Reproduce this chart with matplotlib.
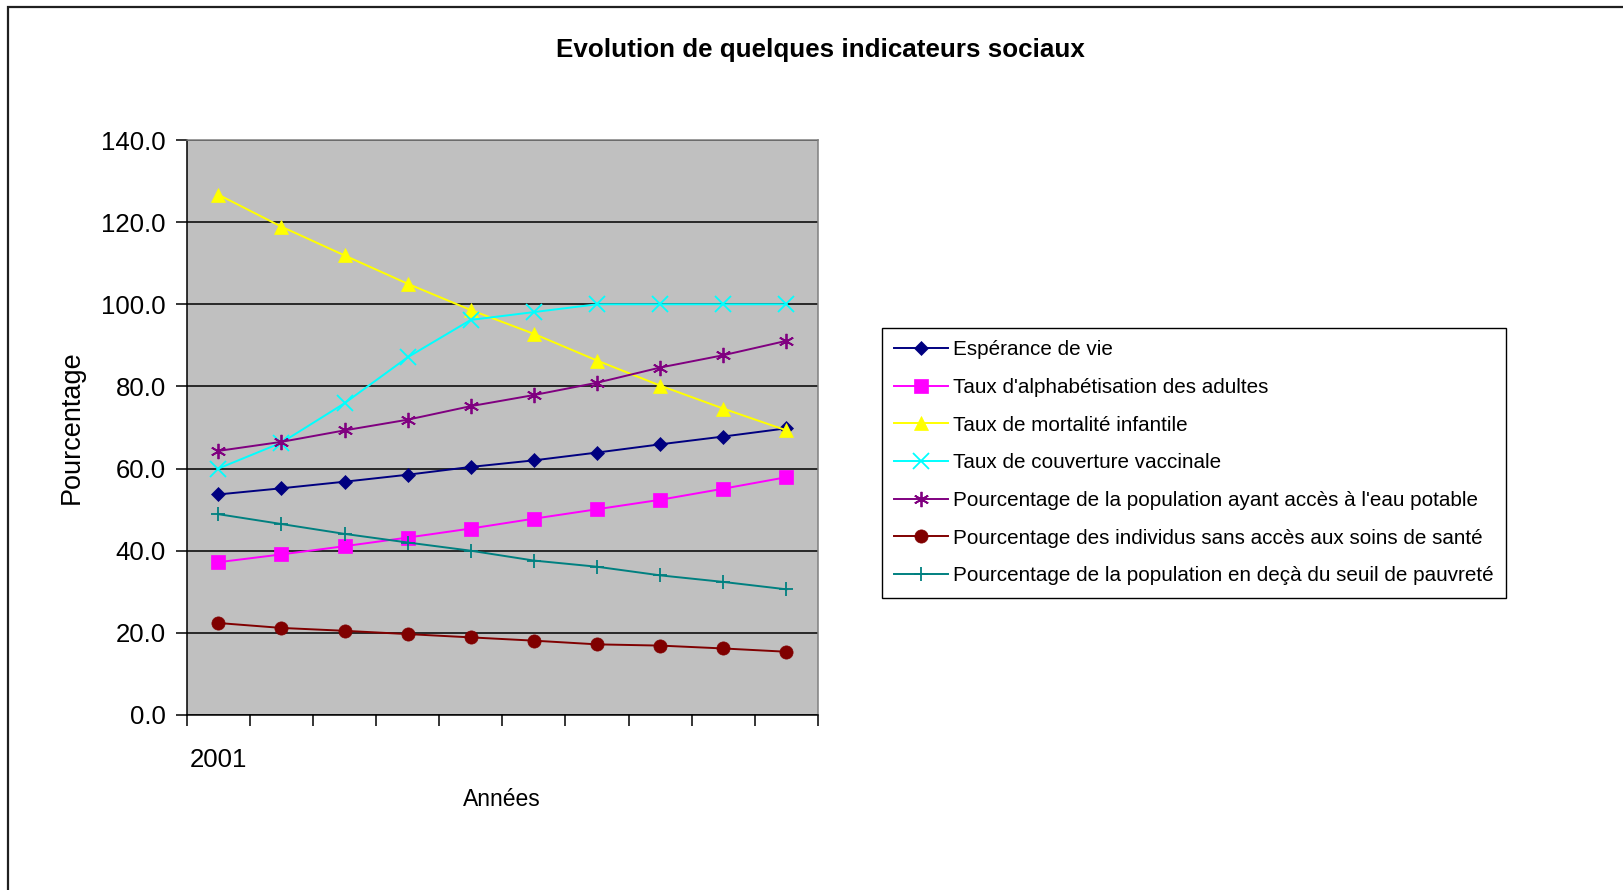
import numpy as np
import matplotlib
matplotlib.use('Agg')
import matplotlib.pyplot as plt
from matplotlib.patches import Rectangle
from matplotlib.ticker import FixedLocator

# Données (10 années, seule 2001 est étiquetée)
annees = ['2001', '', '', '', '', '', '', '', '', '']

esperance_vie = [53.7, 55.2, 56.8, 58.5, 60.4, 62.0, 63.9, 65.9, 67.8, 69.8]
alphabetisation = [37.2, 39.1, 41.1, 43.2, 45.4, 47.8, 50.1, 52.4, 55.1, 57.9]
mortalite_infantile = [126.7, 118.9, 111.9, 105.0, 98.6, 92.8, 86.3, 80.2, 74.6, 69.3]
couverture_vaccinale = [60.0, 66.3, 75.9, 87.1, 96.2, 98.1, 100.0, 100.0, 100.0, 100.0]
eau_potable = [64.3, 66.5, 69.3, 71.9, 75.2, 77.9, 80.9, 84.6, 87.6, 91.1]
sans_soins = [22.4, 21.2, 20.5, 19.7, 18.9, 18.1, 17.2, 16.9, 16.2, 15.4]
pauvrete = [48.9, 46.5, 44.1, 42.0, 40.0, 37.6, 36.1, 34.0, 32.4, 30.6]

series = [
    ("Espérance de vie", esperance_vie, '#000080', 'D', 7.5),
    ("Taux d'alphabétisation des adultes", alphabetisation, '#FF00FF', 's', 10),
    ("Taux de mortalité infantile", mortalite_infantile, '#FFFF00', '^', 10.5),
    ("Taux de couverture vaccinale", couverture_vaccinale, '#00FFFF', 'x', 11),
    ("Pourcentage de la population ayant accès à l'eau potable", eau_potable, '#800080', (6, 2, 0), 11),
    ("Pourcentage des individus sans accès aux soins de santé", sans_soins, '#800000', 'o', 9.5),
    ("Pourcentage de la population en deçà du seuil de pauvreté", pauvrete, '#008080', '+', 10.5),
]

plt.rcParams['font.family'] = ['Liberation Sans', 'DejaVu Sans']

W, H = 1623, 890
fig = plt.figure(figsize=(W / 100, H / 100), dpi=100)

# cadre extérieur du graphique (seuls les bords gauche et haut sont visibles)
fig.patches.append(Rectangle((8 / W, -0.05), 1.1, 1 - 6.5 / H + 0.05, transform=fig.transFigure,
                             fill=False, edgecolor='#202020', linewidth=1.6))

left, right, top, bottom = 186.7, 818, 140, 715
ax = fig.add_axes([left / W, 1 - bottom / H, (right - left) / W, (bottom - top) / H])
ax.set_facecolor('#C0C0C0')

x = np.arange(len(annees))
for nom, valeurs, couleur, marqueur, taille in series:
    ax.plot(x, valeurs, color=couleur, marker=marqueur, markersize=taille, linewidth=1.4,
            markeredgewidth=1.3 if marqueur in ('x', '+') or isinstance(marqueur, tuple) else 0.5,
            markeredgecolor=couleur, label=nom, clip_on=False, zorder=3)

ax.set_xlim(-0.5, len(annees) - 0.5)
ax.set_ylim(0, 140)
ax.set_yticks(np.arange(0, 141, 20))
ax.set_yticklabels(['%.1f' % v for v in np.arange(0, 141, 20)], fontsize=18.5)
ax.yaxis.grid(True, color='black', linewidth=1.1)
ax.set_axisbelow(True)

# graduations entre les catégories, étiquettes au centre
ax.xaxis.set_major_locator(FixedLocator(np.arange(-0.5, len(annees), 1.0)))
ax.set_xticklabels([])
ax.xaxis.set_minor_locator(FixedLocator(x))
ax.set_xticklabels(annees, minor=True, fontsize=18.5)
ax.tick_params(axis='x', which='major', direction='out', length=8, width=1.1)
ax.tick_params(axis='x', which='minor', length=0, pad=24)
ax.tick_params(axis='y', direction='out', length=8, width=1.1, pad=7)

ax.spines['top'].set_color('#808080')
ax.spines['right'].set_color('#808080')
ax.spines['left'].set_color('black')
ax.spines['bottom'].set_color('black')
for s in ax.spines.values():
    s.set_linewidth(1.1)

ax.set_ylabel('Pourcentage', fontsize=19.5, labelpad=12)
fig.text(502 / W, 1 - 799 / H, 'Années', fontsize=16.5, ha='center', va='center')
fig.text(820 / W, 1 - 50 / H, 'Evolution de quelques indicateurs sociaux', fontsize=18.7,
         fontweight='bold', ha='center', va='center')

leg = fig.legend(loc='upper left', bbox_to_anchor=(882 / W, 1 - 328 / H), fontsize=14.9,
                 frameon=True, fancybox=False, edgecolor='black', framealpha=1,
                 handlelength=2.6, handletextpad=0.25, labelspacing=0.9, borderpad=0.6,
                 borderaxespad=0)
leg.get_frame().set_linewidth(1.0)

fig.savefig('out.png', dpi=100)
